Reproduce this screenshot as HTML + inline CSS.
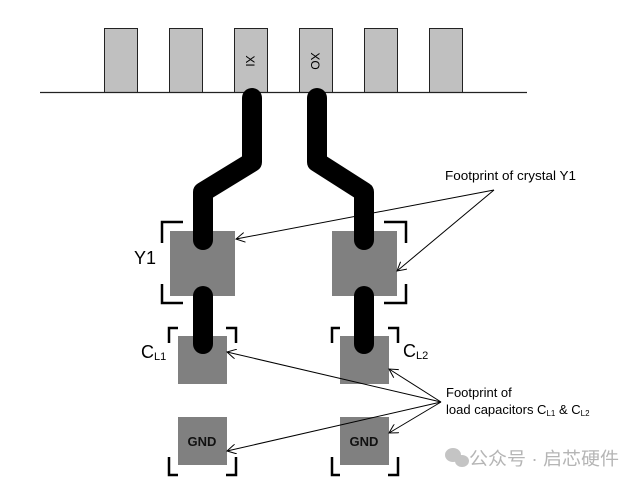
<!DOCTYPE html>
<html><head><meta charset="utf-8"><style>
html,body{margin:0;padding:0;background:#fff;}
svg{display:block;}
text{font-family:"Liberation Sans","Noto Sans CJK SC",sans-serif;}
</style></head><body>
<svg width="640" height="483" viewBox="0 0 640 483" xmlns="http://www.w3.org/2000/svg">
<defs>
<marker id="a" markerWidth="10" markerHeight="10" refX="9" refY="5" orient="auto" markerUnits="userSpaceOnUse">
<path d="M0,0 L9,5 L0,10" fill="none" stroke="#000" stroke-width="1"/>
</marker>
</defs>
<g fill="#c0c0c0" stroke="#222" stroke-width="1">
<rect x="104.5" y="28.5" width="33" height="64"/>
<rect x="169.5" y="28.5" width="33" height="64"/>
<rect x="234.5" y="28.5" width="33" height="64"/>
<rect x="299.5" y="28.5" width="33" height="64"/>
<rect x="364.5" y="28.5" width="33" height="64"/>
<rect x="429.5" y="28.5" width="33" height="64"/>
</g>
<line x1="40" y1="92.5" x2="527" y2="92.5" stroke="#222" stroke-width="1.3"/>
<text transform="translate(246,61) rotate(90)" font-size="12" text-anchor="middle">XI</text>
<text transform="translate(311,61) rotate(90)" font-size="12" text-anchor="middle">XO</text>
<g fill="#808080">
<rect x="170" y="231" width="65" height="65"/>
<rect x="332" y="231" width="65" height="65"/>
<rect x="178" y="336" width="49" height="48"/>
<rect x="340" y="336" width="49" height="48"/>
<rect x="178" y="417" width="49" height="48"/>
<rect x="340" y="417" width="49" height="48"/>
</g>
<g fill="none" stroke="#000" stroke-width="20" stroke-linecap="round" stroke-linejoin="round">
<polyline points="252,98 252,162 203,192 203,240"/>
<polyline points="317,98 317,162 364,192 364,240"/>
<line x1="203" y1="296" x2="203" y2="344"/>
<line x1="364" y1="296" x2="364" y2="344"/>
</g>
<g fill="none" stroke="#000" stroke-width="2.5">
<polyline points="183,222 162,222 162,243"/>
<polyline points="162,284 162,303 183,303"/>
<polyline points="384,222 406,222 406,243"/>
<polyline points="406,284 406,303 384,303"/>
<polyline points="178,328 169,328 169,343"/>
<polyline points="226,328 236,328 236,343"/>
<polyline points="340,328 332,328 332,343"/>
<polyline points="388,328 398,328 398,343"/>
<polyline points="169,457 169,475 178,475"/>
<polyline points="236,457 236,475 226,475"/>
<polyline points="332,457 332,475 340,475"/>
<polyline points="398,457 398,475 388,475"/>
</g>
<g stroke="#000" stroke-width="1" fill="none">
<line x1="494" y1="190" x2="236" y2="239" marker-end="url(#a)"/>
<line x1="494" y1="190" x2="397" y2="271" marker-end="url(#a)"/>
<line x1="441" y1="402" x2="227" y2="352" marker-end="url(#a)"/>
<line x1="441" y1="402" x2="389" y2="369" marker-end="url(#a)"/>
<line x1="441" y1="402" x2="227" y2="451" marker-end="url(#a)"/>
<line x1="441" y1="402" x2="389" y2="433" marker-end="url(#a)"/>
</g>
<text x="134" y="264" font-size="18">Y1</text>
<text x="141" y="358" font-size="18">C<tspan font-size="11" dy="2">L1</tspan></text>
<text x="403" y="357" font-size="18">C<tspan font-size="11" dy="2">L2</tspan></text>
<text x="202" y="446" font-size="13" font-weight="bold" text-anchor="middle" fill="#111">GND</text>
<text x="364" y="446" font-size="13" font-weight="bold" text-anchor="middle" fill="#111">GND</text>
<text x="445" y="180" font-size="13" textLength="131" lengthAdjust="spacingAndGlyphs">Footprint of crystal Y1</text>
<text x="446" y="397" font-size="13">Footprint of</text>
<text x="446" y="414" font-size="13">load capacitors C<tspan font-size="8" dy="2">L1</tspan><tspan dy="-2"> &amp; C</tspan><tspan font-size="8" dy="2">L2</tspan></text>
<g fill="#c4c4c4">
<ellipse cx="453" cy="455" rx="8" ry="7"/>
<ellipse cx="462" cy="461" rx="7" ry="6"/>
</g>
<text x="469" y="465" font-size="18" fill="#b5b5b5" textLength="150" lengthAdjust="spacingAndGlyphs">公众号 · 启芯硬件</text>
</svg>
</body></html>
